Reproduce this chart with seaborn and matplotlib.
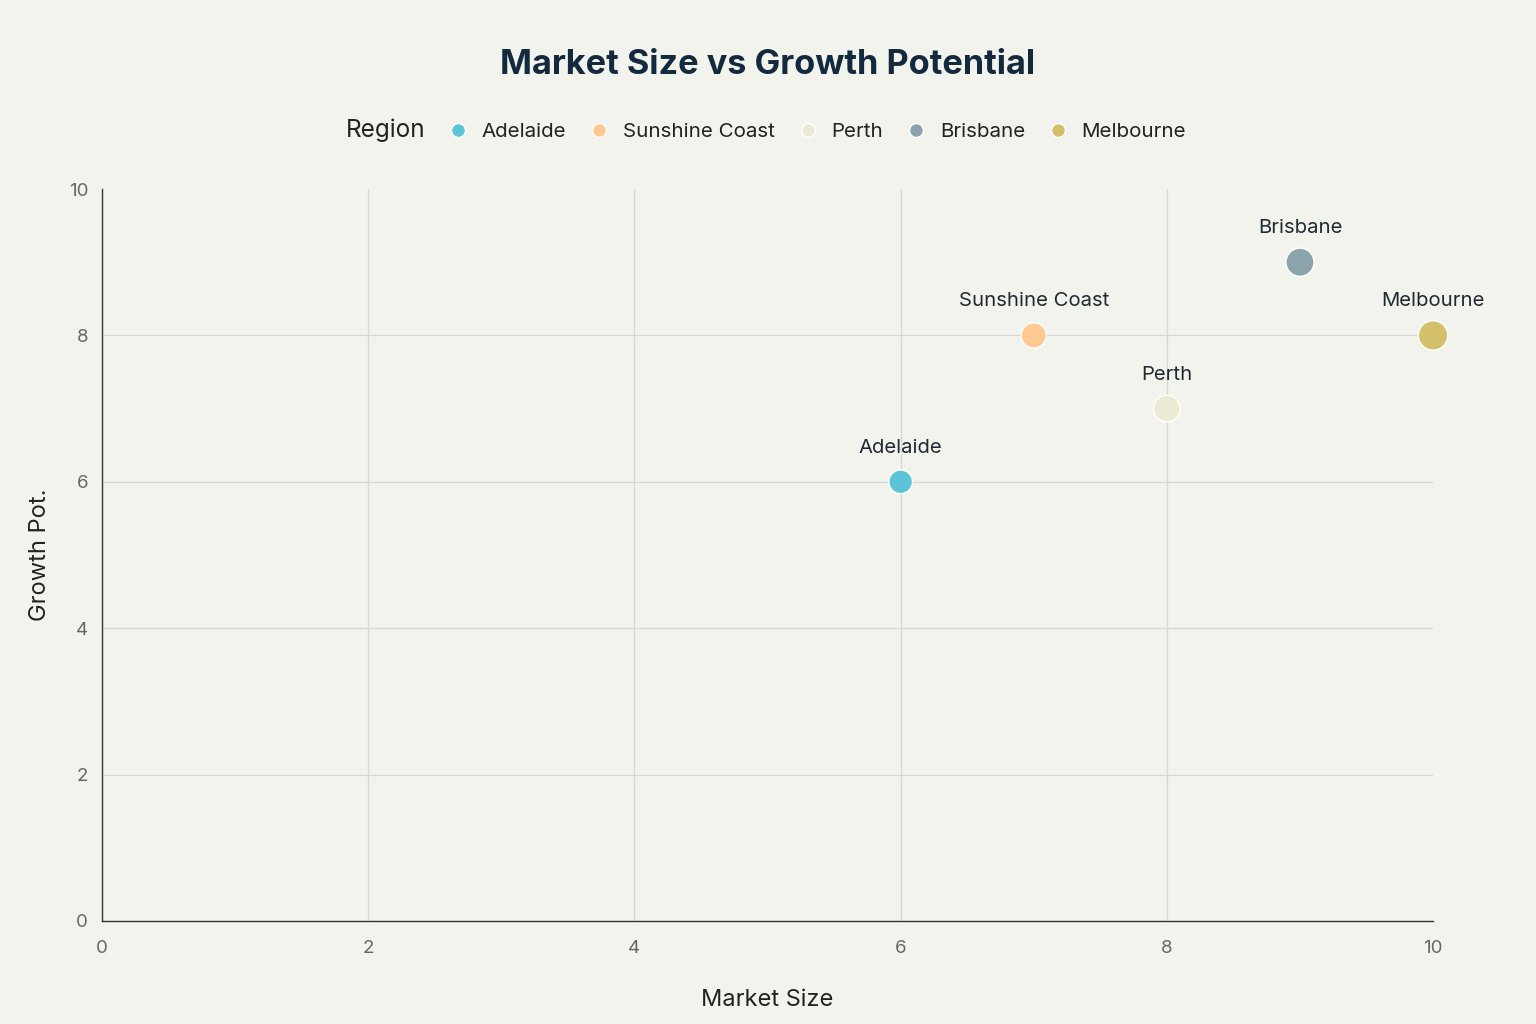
import pandas as pd
import matplotlib.pyplot as plt
import seaborn as sns

regions = ['Adelaide', 'Sunshine Coast', 'Perth', 'Brisbane', 'Melbourne']
market_size = [6, 7, 8, 9, 10]
growth_pot = [6, 8, 7, 9, 8]
bubble = [6, 7, 8, 9, 10]
colors = ['#5BC4D6', '#FFC994', '#ECEBD5', '#8BA3AA', '#D4C06A']

df = pd.DataFrame({'Region': regions, 'Market Size': market_size,
                   'Growth Pot.': growth_pot, 'Bubble': bubble})

bg = '#F3F3EE'
sns.set_theme(style='white')
plt.rcParams['font.family'] = ['Inter', 'DejaVu Sans']

fig = plt.figure(figsize=(15.36, 10.24), dpi=100, facecolor=bg)
ax = fig.add_axes([0.0664, 0.1006, 0.8666, 0.7148])
ax.set_facecolor(bg)

sns.scatterplot(data=df, x='Market Size', y='Growth Pot.', hue='Region',
                palette=dict(zip(regions, colors)), size='Bubble',
                sizes=(290, 450), legend=False, edgecolor='white',
                linewidth=1.0, zorder=3, clip_on=False, ax=ax)

for r, x, y in zip(regions, market_size, growth_pot):
    ax.annotate(r, (x, y), xytext=(0, 18), textcoords='offset points',
                ha='center', va='bottom', fontsize=14.6, color='#1F2A30', zorder=4)

ax.set_xlim(0, 10)
ax.set_ylim(0, 10)
ax.set_xticks(range(0, 11, 2))
ax.set_yticks(range(0, 11, 2))
ax.grid(True, color='#D6D6D2', linewidth=0.9, zorder=0)
ax.set_axisbelow(True)
ax.get_xgridlines()[-1].set_visible(False)
ax.get_ygridlines()[-1].set_visible(False)
for s in ['top', 'right']:
    ax.spines[s].set_visible(False)
for s in ['left', 'bottom']:
    ax.spines[s].set_color('#333333')
    ax.spines[s].set_linewidth(1.0)
ax.tick_params(length=0, labelsize=13.5, colors='#666666')
ax.tick_params(axis='x', pad=14)
ax.tick_params(axis='y', pad=10)
ax.set_xlabel('Market Size', fontsize=17, color='#222222', labelpad=23)
ax.set_ylabel('Growth Pot.', fontsize=17, color='#222222', labelpad=13)

fig.suptitle('Market Size vs Growth Potential', fontsize=24.7, fontweight='bold',
             color='#13293D', y=0.952)

# legend row, title inline on the left
blank = plt.Line2D([], [], linestyle='', marker='')
handles = [blank] + [plt.Line2D([], [], marker='o', linestyle='', markersize=10,
                                markerfacecolor=c, markeredgecolor='white',
                                markeredgewidth=1) for c in colors]
leg = fig.legend(handles, ['Region'] + regions, loc='center', ncol=6,
                 bbox_to_anchor=(0.487, 0.873), frameon=False,
                 fontsize=14.8, handletextpad=0.55, columnspacing=1.0,
                 handlelength=1.2)
texts = leg.get_texts()
texts[0].set_fontsize(17.5)
for t in texts:
    t.set_color('#222222')

fig.savefig('out.png', dpi=100, facecolor=bg)
